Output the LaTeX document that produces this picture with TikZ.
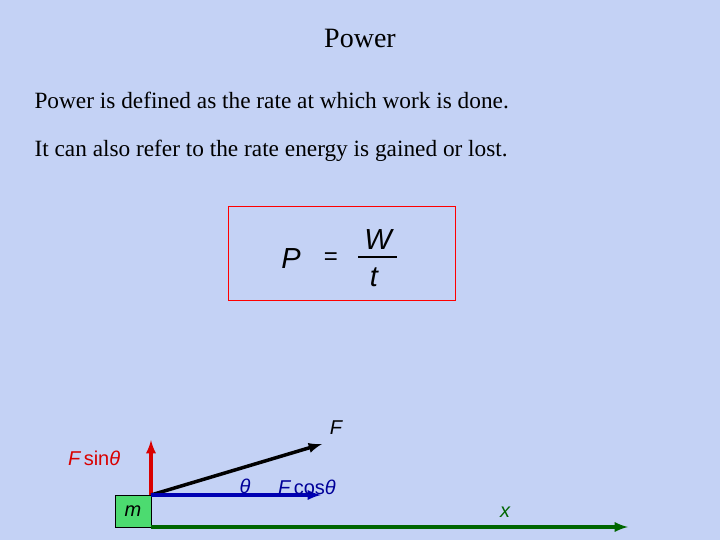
\documentclass[tikz,border=0pt]{standalone}
\usepackage{fontspec}
\setmainfont{Liberation Serif}
\newfontfamily\arial{Liberation Sans}
\definecolor{bgc}{RGB}{196,210,245}
\begin{document}
\begin{tikzpicture}[x=1pt,y=-1pt,
  lbl/.style={font=\arial\fontsize{20}{24}\selectfont\itshape, inner sep=0pt},
  big/.style={font=\arial\fontsize{29}{34}\selectfont\itshape, inner sep=0pt},
  vec/.style={line width=3.5pt,-latex}]
\fill[bgc] (0,0) rectangle (720,540);
\useasboundingbox (0,0) rectangle (720,540);
\node (title) at (360,38) {\fontsize{28}{32}\selectfont Power};
\node[anchor=west] (l1) at (31,100) {\fontsize{23.3}{28}\selectfont Power is defined as the rate at which work is done.};
\node[anchor=west] (l2) at (31,151) {\fontsize{23.3}{28}\selectfont It can also refer to the rate energy is gained or lost.};
\node[draw=red, minimum width=227, minimum height=94, inner sep=0pt] (box) at (341.5,253) {};
\node[big] (P) at (291,259) {P};
\node[font=\arial\fontsize{24}{28}\selectfont, inner sep=0pt] (eq) at (331,259) {=};
\node[big] (W) at (378,240) {W};
\node[big] (t) at (374,277) {t};
\draw[line width=1.5pt] (358,257) -- (397,257);
\node[draw=black, fill=green!60!teal!70!white, minimum width=36, minimum height=32, inner sep=0pt] (m) at (133,511) {};
\node[lbl] at (m.center) {m};
\coordinate (o) at (151,495);
\coordinate (fe) at (322,444);
\coordinate (se) at (151,440);
\coordinate (ce) at (321,495);
\coordinate (xs) at (151,527);
\coordinate (xe) at (628,527);
\draw[vec,red!85!black] (o) -- (se);
\draw[vec,black] (o) -- (fe);
\draw[vec,blue!70!black] (o) -- (ce);
\draw[vec,green!40!black] (xs) -- (xe);
\node[lbl] (F) at (336,428) {F};
\node[lbl,red!85!black,anchor=west] (fs) at (68,458) {F\,\upshape sin\itshape θ};
\node[lbl,blue!60!black] (th) at (245,486) {θ};
\node[lbl,blue!60!black,anchor=west] (fc) at (278,487) {F\,\upshape cos\itshape θ};
\node[lbl,green!40!black] (x) at (505,512) {x};
\end{tikzpicture}
\end{document}
